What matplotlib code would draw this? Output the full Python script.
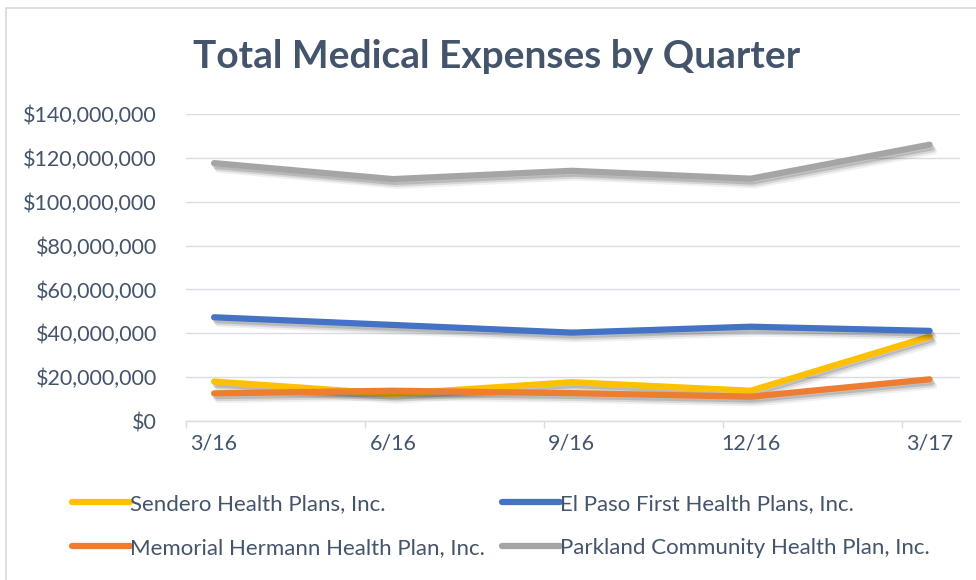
import matplotlib
matplotlib.use("Agg")
import matplotlib.pyplot as plt
import matplotlib.patheffects as pe
from matplotlib.patches import Rectangle
from matplotlib.ticker import FuncFormatter, FixedLocator

plt.rcParams['font.family'] = ['Lato', 'DejaVu Sans']

quarters = ['3/16', '6/16', '9/16', '12/16', '3/17']
sendero = [18.0e6, 12.3e6, 17.7e6, 13.8e6, 38.5e6]
el_paso = [47.3e6, 43.8e6, 40.3e6, 43.0e6, 41.1e6]
memorial = [12.6e6, 13.8e6, 12.7e6, 11.1e6, 19.0e6]
parkland = [117.6e6, 110.3e6, 114.1e6, 110.5e6, 126.0e6]

series = [
    ('Sendero Health Plans, Inc.', sendero, '#FFC000'),
    ('El Paso First Health Plans, Inc.', el_paso, '#4472C4'),
    ('Memorial Hermann Health Plan, Inc.', memorial, '#ED7D31'),
    ('Parkland Community Health Plan, Inc.', parkland, '#A5A5A5'),
]

text_col = '#44546A'
grid_col = '#D9DDE3'

fig = plt.figure(figsize=(9.76, 5.8), dpi=100)
ax = fig.add_axes([186 / 976, 1 - 421 / 580, 774 / 976, 307 / 580])

# chart border
fig.patches.append(Rectangle((6 / 976, -0.05), 1.2, 1 - 8 / 580 + 0.05,
                             transform=fig.transFigure, fill=False,
                             edgecolor='#D9D9D9', linewidth=1.2))

shadow = [
    pe.SimpleLineShadow(offset=(1.2, -2.0), shadow_color='black', alpha=0.14),
    pe.SimpleLineShadow(offset=(2.2, -3.4), shadow_color='black', alpha=0.10),
    pe.SimpleLineShadow(offset=(3.2, -4.8), shadow_color='black', alpha=0.06),
    pe.Normal(),
]

x = list(range(len(quarters)))
handles = {}
for name, vals, col in series:
    ln, = ax.plot(x, vals, color=col, lw=4.5, solid_capstyle='round',
                  solid_joinstyle='round', label=name, path_effects=shadow)
    handles[name] = ln

ax.set_ylim(0, 140e6)
ax.set_xlim(-0.157, 4.17)
ax.set_yticks(range(0, 140000001, 20000000))
ax.yaxis.set_major_formatter(FuncFormatter(lambda v, p: '${:,.0f}'.format(v)))
ax.set_xticks(x)
ax.set_xticklabels(quarters)
ax.xaxis.set_minor_locator(FixedLocator([i - 0.157 for i in x]))

ax.grid(axis='y', color=grid_col, lw=1.0)
ax.set_axisbelow(True)
for s in ['top', 'right', 'left']:
    ax.spines[s].set_visible(False)
ax.spines['bottom'].set_color(grid_col)
ax.spines['bottom'].set_linewidth(1.0)

ax.tick_params(axis='y', length=0, pad=21, labelsize=15.5, labelcolor=text_col)
ax.tick_params(axis='x', which='major', length=0, pad=9, labelsize=15.5,
               labelcolor=text_col)
ax.tick_params(axis='x', which='minor', length=5, color=grid_col, width=1.0)

fig.text(0.509, 0.902, 'Total Medical Expenses by Quarter', ha='center',
         va='center', fontsize=28, fontweight='bold', color=text_col)

order = ['Sendero Health Plans, Inc.', 'Memorial Hermann Health Plan, Inc.',
         'El Paso First Health Plans, Inc.', 'Parkland Community Health Plan, Inc.']
leg = fig.legend([handles[n] for n in order], order, ncol=2,
                 loc='center left', bbox_to_anchor=(72 / 976, 1 - 526 / 580),
                 frameon=False, fontsize=16, handlelength=2.6,
                 handletextpad=0.0, columnspacing=0.8, labelspacing=1.06,
                 borderpad=0, borderaxespad=0, labelcolor=text_col)
for h in leg.legend_handles:
    h.set_path_effects([pe.Normal()])

fig.savefig('out.png', dpi=100)
